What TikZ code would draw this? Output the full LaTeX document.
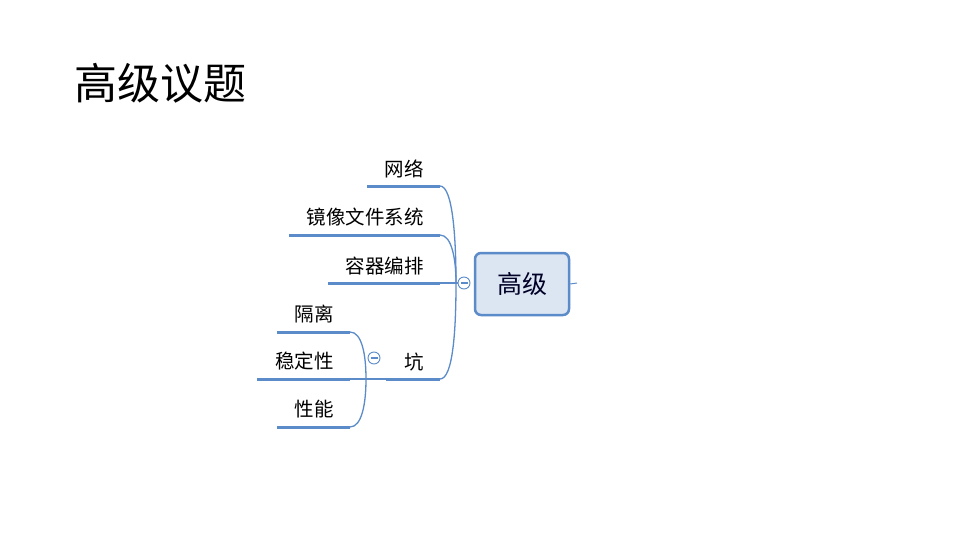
\documentclass[tikz,border=0pt]{standalone}
\usepackage{fontspec}
\newfontfamily\cjk{Noto Sans CJK SC}
\definecolor{branch}{HTML}{5B8BC9}
\definecolor{boxfill}{HTML}{DCE6F2}
\definecolor{boxdraw}{HTML}{5B8BC9}
\begin{document}
\begin{tikzpicture}[x=1pt,y=-1pt,
  lbl/.style={anchor=base east,inner sep=0pt,font=\cjk\fontsize{19.5}{21}\selectfont},
  uline/.style={draw=branch,line width=3pt},
  curve/.style={draw=branch,line width=1.3pt},
  fold/.style={circle,draw=branch,line width=0.9pt,minimum size=12pt,inner sep=0pt,fill=white}]
\useasboundingbox (0,0) rectangle (960,540);
\node[anchor=base west,inner sep=0pt,font=\cjk\fontsize{43}{46}\selectfont] (title) at (74,100) {高级议题};
% central
\node[draw=boxdraw,line width=2.5pt,fill=boxfill,rounded corners=6pt,minimum width=94pt,minimum height=62pt,inner sep=0pt,font=\cjk\fontsize{25}{27}\selectfont,text=black!85!blue] (center) at (522,284) {高级};
\coordinate (cr) at (577,283);
\draw[curve,line width=1pt] (center.east) -- (cr);
\coordinate (hub) at (456,283);
\node[fold] (f1) at (464,283) {};
\draw[branch,line width=1.2pt] (f1.center) ++(-3.5,0) -- ++(7,0);
\draw[curve] (hub) -- (f1.west);
% main branches
\node[lbl] (t1) at (424,177) {网络};
\coordinate (a1) at (367,186); \coordinate (b1) at (440,186);
\node[lbl] (t2) at (424,224) {镜像文件系统};
\coordinate (a2) at (289,235); \coordinate (b2) at (440,235);
\node[lbl] (t3) at (424,273) {容器编排};
\coordinate (a3) at (328,283); \coordinate (b3) at (440,283);
\node[lbl] (t4) at (424,369) {坑};
\coordinate (a4) at (386,379); \coordinate (b4) at (440,379);
\draw[uline] (a1) -- (b1);
\draw[uline] (a2) -- (b2);
\draw[uline] (a3) -- (b3);
\draw[uline] (a4) -- (b4);
\draw[curve] (b1) .. controls (453,186) and (456,240) .. (hub);
\draw[curve] (b2) .. controls (452,235) and (456,260) .. (hub);
\draw[curve] (b3) -- (hub);
\draw[curve] (b4) .. controls (453,379) and (456,330) .. (hub);
% sub branches
\coordinate (shub) at (366,379);
\node[lbl] (s1) at (334,321) {隔离};
\coordinate (c1) at (277,332); \coordinate (d1) at (350,332);
\node[lbl] (s2) at (334,368) {稳定性};
\coordinate (c2) at (257,379); \coordinate (d2) at (350,379);
\node[lbl] (s3) at (334,416) {性能};
\coordinate (c3) at (277,427); \coordinate (d3) at (350,427);
\draw[uline] (c1) -- (d1);
\draw[uline] (c2) -- (d2);
\draw[uline] (c3) -- (d3);
\draw[curve] (d1) .. controls (362,332) and (366,355) .. (shub);
\draw[curve] (d3) .. controls (362,427) and (366,403) .. (shub);
\draw[curve] (d2) -- (a4);
\node[fold] (f2) at (374,358) {};
\draw[branch,line width=1.2pt] (f2.center) ++(-3.5,0) -- ++(7,0);
\end{tikzpicture}
\end{document}
